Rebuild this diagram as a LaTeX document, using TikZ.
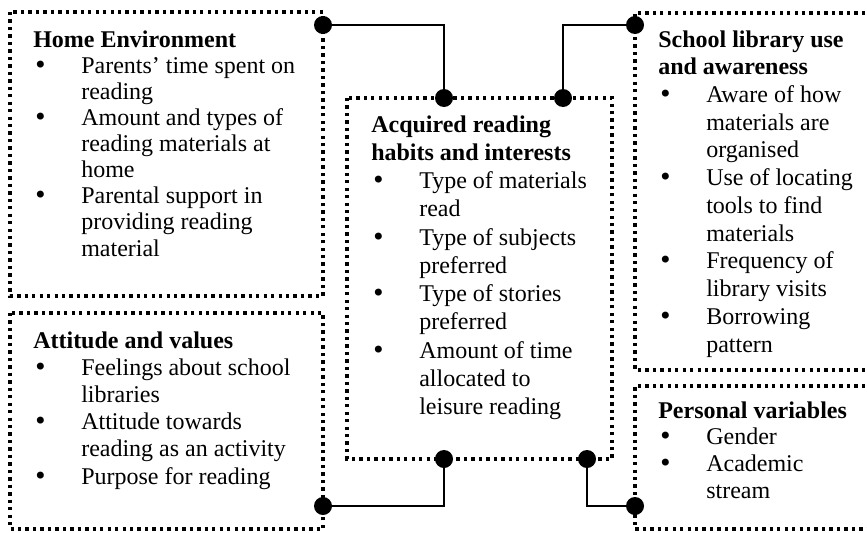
\documentclass[tikz,border=0pt]{standalone}
\usepackage{fontspec}
\setmainfont{Liberation Serif}
\newfontfamily\bulfont{DejaVu Sans}
\usepackage{tikz}
\newcommand{\bigbul}{{\bulfont •}}
\tikzset{circ/.style = {fill, circle, inner sep = 0, minimum size = 13.5pt}}
\tikzset{panel/.style = {line width = 2.5pt, dash pattern = on 2.5pt off 3.1pt}}
\tikzset{txt/.style = {anchor = base west, inner sep = 0, font = \fontsize{18}{#1}\selectfont}}

\begin{document}
\begin{tikzpicture}[x = 0.75pt, y = -0.75pt]
    \useasboundingbox (0, 0) rectangle (867, 532);
    \clip (0, 0) rectangle (867, 532);

    \draw [panel] (10, 12) rectangle (323, 296);
    \draw [panel] (10, 313) rectangle (323, 529);
    \draw [panel] (347, 98) rectangle (612, 459);
    \draw [panel] (880, 13) -- (635, 13) -- (635, 370) -- (880, 370);
    \draw [panel] (880, 386) -- (635, 386) -- (635, 529) -- (880, 529);

    \node [txt = 19.6] (home) at (33, 47) {\begin{tabular}[t]{@{}p{36pt}@{}l@{}}
      \multicolumn{2}{@{}l@{}}{\textbf{Home Environment}} \\
      \bigbul & Parents’ time spent on \\
              & reading \\
      \bigbul & Amount and types of \\
              & reading materials at \\
              & home \\
      \bigbul & Parental support in \\
              & providing reading \\
              & material
    \end{tabular}};

    \node [txt = 20.4] (attitude) at (33, 348) {\begin{tabular}[t]{@{}p{36pt}@{}l@{}}
      \multicolumn{2}{@{}l@{}}{\textbf{Attitude and values}} \\
      \bigbul & Feelings about school \\
              & libraries \\
      \bigbul & Attitude towards \\
              & reading as an activity \\
      \bigbul & Purpose for reading
    \end{tabular}};

    \node [txt = 21.2] (habits) at (371, 132) {\begin{tabular}[t]{@{}p{36pt}@{}l@{}}
      \multicolumn{2}{@{}l@{}}{\textbf{Acquired reading}} \\
      \multicolumn{2}{@{}l@{}}{\textbf{habits and interests}} \\
      \bigbul & Type of materials \\
              & read \\
      \bigbul & Type of subjects \\
              & preferred \\
      \bigbul & Type of stories \\
              & preferred \\
      \bigbul & Amount of time \\
              & allocated to \\
              & leisure reading
    \end{tabular}};

    \node [txt = 20.8] (library) at (658, 47) {\begin{tabular}[t]{@{}p{36pt}@{}l@{}}
      \multicolumn{2}{@{}l@{}}{\textbf{School library use}} \\
      \multicolumn{2}{@{}l@{}}{\textbf{and awareness}} \\
      \bigbul & Aware of how \\
              & materials are \\
              & organised \\
      \bigbul & Use of locating \\
              & tools to find \\
              & materials \\
      \bigbul & Frequency of \\
              & library visits \\
      \bigbul & Borrowing \\
              & pattern
    \end{tabular}};

    \node [txt = 20.0] (personal) at (658, 418) {\begin{tabular}[t]{@{}p{36pt}@{}l@{}}
      \multicolumn{2}{@{}l@{}}{\textbf{Personal variables}} \\
      \bigbul & Gender \\
      \bigbul & Academic \\
              & stream
    \end{tabular}};

    \node [circ] (homedot) at (323, 25) {};
    \node [circ] (habitsdotA) at (444, 98) {};
    \node [circ] (habitsdotB) at (563, 98) {};
    \node [circ] (librarydot) at (635, 25) {};
    \node [circ] (habitsdotC) at (444, 459) {};
    \node [circ] (attitudedot) at (323, 506) {};
    \node [circ] (habitsdotD) at (587, 459) {};
    \node [circ] (personaldot) at (635, 506) {};

    \draw [line width = 1pt] (homedot) -| (habitsdotA);
    \draw [line width = 1pt] (librarydot) -| (habitsdotB);
    \draw [line width = 1pt] (habitsdotC) |- (attitudedot);
    \draw [line width = 1pt] (habitsdotD) |- (personaldot);
  \end{tikzpicture}
\end{document}
